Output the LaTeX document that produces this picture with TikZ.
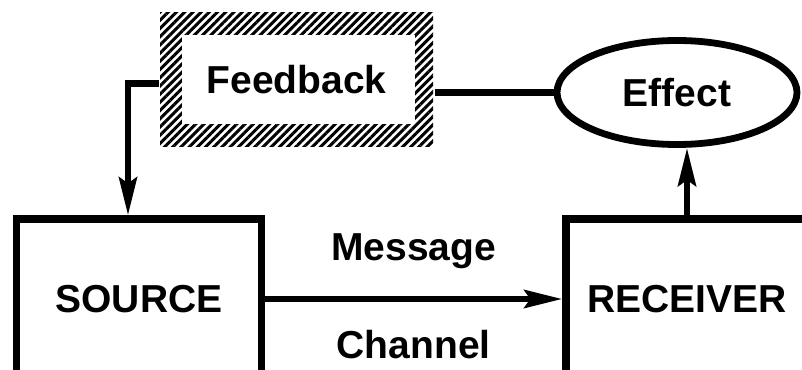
\documentclass[tikz,border=0pt]{standalone}
\usepackage{fontspec}
\setmainfont{Liberation Sans}
\usepackage{tikz}
\usetikzlibrary{positioning,shapes.geometric,patterns.meta,arrows.meta}

\begin{document}
\begin{tikzpicture}[x=0.5pt,y=-0.5pt,
		lbl/.style={font=\fontsize{19.5}{22}\selectfont\bfseries},
		box/.style={draw, line width=3.6pt, rectangle, minimum width=#1, minimum height=80pt, lbl},
		hatchbox/.style={lbl, minimum width=136.5pt, minimum height=66.5pt,
			pattern={Lines[angle=45,distance=2.9pt,line width=1.5pt]},
			path picture={\fill[white] ([shift={(11pt,-11pt)}]path picture bounding box.north west) rectangle ([shift={(-9pt,11pt)}]path picture bounding box.south east);}},
		ell/.style={ellipse, draw, line width=3.4pt, minimum width=120pt, minimum height=52pt, inner sep=0pt, lbl},
		wire/.style={line width=3.2pt},
		arr/.style={wire, -{Stealth[length=19pt,width=9pt,inset=3pt]}}]
		\useasboundingbox (0,0) rectangle (802,369);
		\clip (0,0) rectangle (802,369);
		%Boxes
		\node[box=122.5pt] (src) at (139,299) {SOURCE};
		\node[box=121pt] (rcv) at (687,299) {RECEIVER};
		\node[hatchbox] (fb) at (296.5,79.5) {Feedback};
		\node[ell] (eff) at (677,92.5) {Effect};
		%Connectors
		\coordinate (srcin) at ([xshift=-5.5pt]src.north);
		\draw[arr] ([yshift=-2pt]fb.west) -| (srcin);
		\draw[wire] (eff.west -| fb.east) -- (eff.west);
		\draw[arr] (src) -- node[lbl, anchor=base, yshift=19.5pt] (msg) {Message} node[lbl, anchor=base, yshift=-29.5pt] (chan) {Channel} (rcv);
		\draw[arr] (rcv.north) -- (rcv.north |- eff.south);
\end{tikzpicture}
\end{document}
